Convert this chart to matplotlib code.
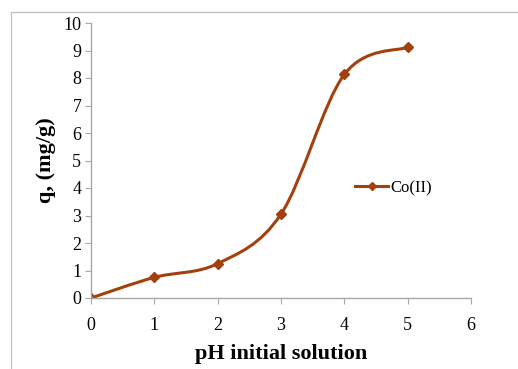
import matplotlib
matplotlib.use("Agg")
import matplotlib.pyplot as plt
from matplotlib.path import Path
from matplotlib.patches import PathPatch, Rectangle
from matplotlib.lines import Line2D
import numpy as np

ph = [0, 1, 2, 3, 4, 5]
q = [0.0, 0.75, 1.25, 3.05, 8.13, 9.12]
series_name = "Co(II)"
xticks = [0, 1, 2, 3, 4, 5, 6]
yticks = [0, 1, 2, 3, 4, 5, 6, 7, 8, 9, 10]

color = "#A3410E"
plt.rcParams['font.family'] = ['Liberation Serif', 'DejaVu Serif']

fig = plt.figure(figsize=(5.18, 3.69), dpi=100)
fig.patches.append(Rectangle((11/518, -0.1), 1.2, (1 - 12/369) + 0.1, transform=fig.transFigure,
                             fill=False, edgecolor="#BFBFBF", lw=0.9))
ax = fig.add_axes([91/518, 71/369, 380/518, 275/369])

# smooth Bezier (Excel-style) through the points
x = np.array(ph, float); y = np.array(q, float)
verts = [(x[0], y[0])]; codes = [Path.MOVETO]
n = len(x)
for i in range(n - 1):
    p0 = (x[i-1], y[i-1]) if i > 0 else (x[i], y[i])
    p1 = (x[i], y[i]); p2 = (x[i+1], y[i+1])
    p3 = (x[i+2], y[i+2]) if i + 2 < n else (x[i+1], y[i+1])
    c1 = (p1[0] + (p2[0] - p0[0]) / 6, p1[1] + (p2[1] - p0[1]) / 6)
    c2 = (p2[0] - (p3[0] - p1[0]) / 6, p2[1] - (p3[1] - p1[1]) / 6)
    verts += [c1, c2, p2]; codes += [Path.CURVE4] * 3
ax.add_patch(PathPatch(Path(verts, codes), fill=False, edgecolor=color, lw=2.2, capstyle='round'))
ax.plot(ph, q, linestyle='none', marker='D', markersize=5, color=color)

ax.set_xlim(0, 6); ax.set_ylim(0, 10)
ax.set_xticks(xticks); ax.set_yticks(yticks)
for s in ['top', 'right']:
    ax.spines[s].set_visible(False)
for s in ['left', 'bottom']:
    ax.spines[s].set_color("#A6A6A6"); ax.spines[s].set_linewidth(1.0)
ax.tick_params(axis='both', direction='out', length=4, color="#A6A6A6", labelsize=13, labelcolor="black")
ax.tick_params(axis='y', pad=3)
ax.tick_params(axis='x', pad=10)
ax.set_xlabel("pH initial solution", fontsize=16, fontweight='bold', labelpad=7)
ax.set_ylabel("q, (mg/g)", fontsize=16, fontweight='bold', labelpad=5)

handle = Line2D([], [], color=color, lw=2.2, marker='D', markersize=4.5)
ax.legend([handle], [series_name], loc='center left', bbox_to_anchor=(0.655, 0.40), frameon=False,
          fontsize=12, handlelength=2.0, handletextpad=0.15)

fig.savefig("out.png", dpi=100)
